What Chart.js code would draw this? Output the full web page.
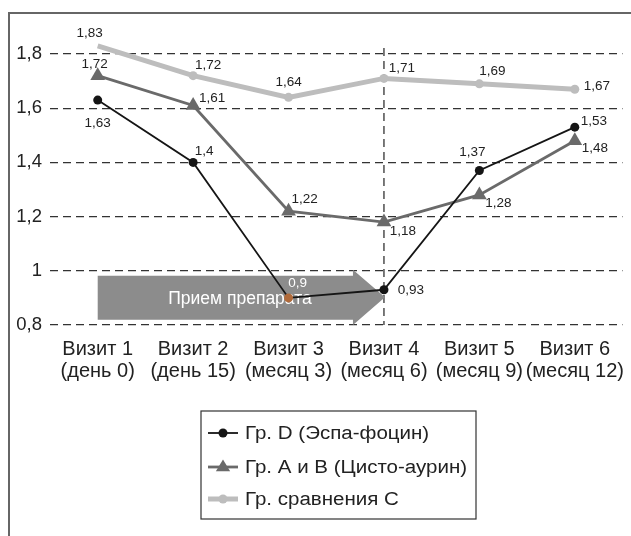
<!DOCTYPE html>
<html>
<head>
<meta charset="utf-8">
<script src="https://cdn.jsdelivr.net/npm/chart.js@4/dist/chart.umd.min.js"></script>
<style>
  html, body { margin: 0; padding: 0; background: #fff; }
  #wrap { width: 631px; height: 536px; position: relative; }
</style>
</head>
<body>
<div id="wrap"><canvas id="c" width="631" height="536"></canvas></div>
<script>
// Visits (two-line axis labels)
const visits = [
  ['Визит 1', '(день 0)'],
  ['Визит 2', '(день 15)'],
  ['Визит 3', '(месяц 3)'],
  ['Визит 4', '(месяц 6)'],
  ['Визит 5', '(месяц 9)'],
  ['Визит 6', '(месяц 12)']
];
const yTicks = [0.8, 1.0, 1.2, 1.4, 1.6, 1.8];

// Series values
const groupD  = [1.63, 1.40, 0.90, 0.93, 1.37, 1.53];
const groupAB = [1.72, 1.61, 1.22, 1.18, 1.28, 1.48];
const groupC  = [1.83, 1.72, 1.64, 1.71, 1.69, 1.67];

const seriesNames = ['Гр. D (Эспа-фоцин)', 'Гр. A и B (Цисто-аурин)', 'Гр. сравнения С'];
const arrowText = 'Прием препарата';

// Value label offsets from each point (dx, dy), per series (D, A+B, C)
const labelOffsets = [
  [[0, 23], [11, -11], [9, -15], [27, 1], [-7, -18], [19, -6]],
  [[-3, -11], [19, -7], [16, -12], [19, 9], [19, 8], [20, 8]],
  [[-8, -13], [15, -10], [0, -15], [18, -10], [13, -13], [22, -3]]
];
const labelColors = [
  ['#222', '#222', '#fff', '#222', '#222', '#222'],
  null, null
];

const FONT = '"Liberation Sans", Arial, Helvetica, sans-serif';
const fmt = v => String(+v.toFixed(2)).replace('.', ',');

const decor = {
  id: 'decor',
  beforeDraw(chart) {
    const ctx = chart.ctx;
    ctx.save();
    ctx.fillStyle = '#fff';
    ctx.fillRect(0, 0, chart.width, chart.height);
    ctx.strokeStyle = '#666';
    ctx.lineWidth = 2;
    ctx.strokeRect(9, 13, chart.width + 20, chart.height + 20);
    ctx.restore();
  },
  beforeDatasetsDraw(chart) {
    const ctx = chart.ctx;
    const xs = chart.scales.x, ys = chart.scales.y;
    // vertical dashed marker at visit 4
    const x4 = xs.getPixelForValue(3);
    ctx.save();
    ctx.strokeStyle = '#333';
    ctx.lineWidth = 1.3;
    ctx.setLineDash([8, 5]);
    ctx.beginPath();
    ctx.moveTo(x4, ys.getPixelForValue(1.822));
    ctx.lineTo(x4, ys.getPixelForValue(0.8));
    ctx.stroke();
    ctx.setLineDash([]);
    // treatment arrow from visit 1 to visit 4
    const x1 = xs.getPixelForValue(0);
    const top = ys.getPixelForValue(0.982), bot = ys.getPixelForValue(0.819);
    const headTop = ys.getPixelForValue(1.004), headBot = ys.getPixelForValue(0.8);
    const mid = (headTop + headBot) / 2;
    const neck = x4 - 31;
    ctx.fillStyle = '#8c8c8c';
    ctx.beginPath();
    ctx.moveTo(x1, top);
    ctx.lineTo(neck, top);
    ctx.lineTo(neck, headTop);
    ctx.lineTo(x4 + 1, mid);
    ctx.lineTo(neck, headBot);
    ctx.lineTo(neck, bot);
    ctx.lineTo(x1, bot);
    ctx.closePath();
    ctx.fill();
    ctx.fillStyle = '#fff';
    ctx.font = '17.5px ' + FONT;
    ctx.textAlign = 'center';
    ctx.textBaseline = 'middle';
    ctx.fillText(arrowText, 240, mid + 2);
    ctx.restore();
  },
  afterDatasetsDraw(chart) {
    const ctx = chart.ctx;
    ctx.save();
    ctx.font = '13.5px ' + FONT;
    ctx.textAlign = 'center';
    ctx.textBaseline = 'middle';
    chart.data.datasets.forEach((ds, i) => {
      const meta = chart.getDatasetMeta(i);
      const k = ds.seriesIndex;
      meta.data.forEach((pt, j) => {
        const [dx, dy] = labelOffsets[k][j];
        ctx.fillStyle = labelColors[k] ? labelColors[k][j] : '#222';
        ctx.fillText(fmt(ds.data[j]), pt.x + dx, pt.y + dy);
      });
    });
    // legend box
    ctx.strokeStyle = '#333';
    ctx.lineWidth = 1.2;
    ctx.strokeRect(201, 411, 275, 108);
    const rows = [433, 467, 499];
    const ordered = chart.data.datasets.slice().sort((a, b) => a.seriesIndex - b.seriesIndex);
    ordered.forEach((ds, i) => {
      const y = rows[i];
      ctx.strokeStyle = ds.borderColor;
      ctx.lineWidth = ds.borderWidth;
      ctx.beginPath();
      ctx.moveTo(208, y);
      ctx.lineTo(238, y);
      ctx.stroke();
      ctx.fillStyle = ds.borderColor;
      ctx.beginPath();
      if (ds.pointStyle === 'triangle') {
        const r = 7.5;
        ctx.moveTo(223, y - r);
        ctx.lineTo(223 + r * 0.95, y + r * 0.55);
        ctx.lineTo(223 - r * 0.95, y + r * 0.55);
        ctx.closePath();
      } else {
        ctx.arc(223, y, ds.pointRadius, 0, Math.PI * 2);
      }
      ctx.fill();
      ctx.save();
      ctx.translate(245, y + 1);
      ctx.scale(1.14, 1);
      ctx.font = '18px ' + FONT;
      ctx.textAlign = 'left';
      ctx.fillStyle = '#222';
      ctx.fillText(ds.label, 0, 0);
      ctx.restore();
    });
    ctx.restore();
  }
};

new Chart(document.getElementById('c'), {
  type: 'line',
  data: {
    labels: visits,
    datasets: [
      {
        seriesIndex: 0,
        label: seriesNames[0], data: groupD,
        borderColor: '#151515',
        pointBackgroundColor: ['#151515', '#151515', '#b06a3a', '#151515', '#151515', '#151515'],
        backgroundColor: '#151515',
        borderWidth: 1.8, pointRadius: 4.5, pointStyle: 'circle',
        pointBorderWidth: 0, clip: false
      },
      {
        seriesIndex: 1,
        label: seriesNames[1], data: groupAB,
        borderColor: '#6a6a6a', backgroundColor: '#6a6a6a',
        borderWidth: 2.8, pointRadius: 8.5, pointStyle: 'triangle',
        pointBorderWidth: 0, clip: false
      },
      {
        seriesIndex: 2,
        label: seriesNames[2], data: groupC,
        borderColor: '#bdbdbd', backgroundColor: '#bdbdbd',
        borderWidth: 5, pointRadius: 4.5, pointStyle: 'circle',
        pointBorderWidth: 0, clip: false
      }
    ]
  },
  options: {
    responsive: false,
    animation: false,
    events: [],
    layout: { padding: { top: 54, right: 8, left: 0, bottom: 0 } },
    plugins: { legend: { display: false }, tooltip: { enabled: false } },
    scales: {
      x: {
        offset: true,
        grid: { display: false, drawTicks: false },
        border: { display: false },
        ticks: { color: '#222', font: { family: FONT, size: 20, lineHeight: 1.1 }, padding: 13, maxRotation: 0, autoSkip: false },
        afterFit: s => { s.height = 211; s.paddingLeft = 0; s.paddingRight = 0; }
      },
      y: {
        min: yTicks[0], max: yTicks[yTicks.length - 1],
        afterBuildTicks: s => { s.ticks = yTicks.map(v => ({ value: v })); },
        grid: { color: '#333', lineWidth: 1.3, drawTicks: false },
        border: { display: false, dash: [8, 5] },
        ticks: {
          color: '#222', font: { family: FONT, size: 18.5 }, padding: 8,
          callback: v => String(+v.toFixed(1)).replace('.', ',')
        },
        afterFit: s => { s.width = 50; }
      }
    }
  },
  plugins: [decor]
});
</script>
</body>
</html>
